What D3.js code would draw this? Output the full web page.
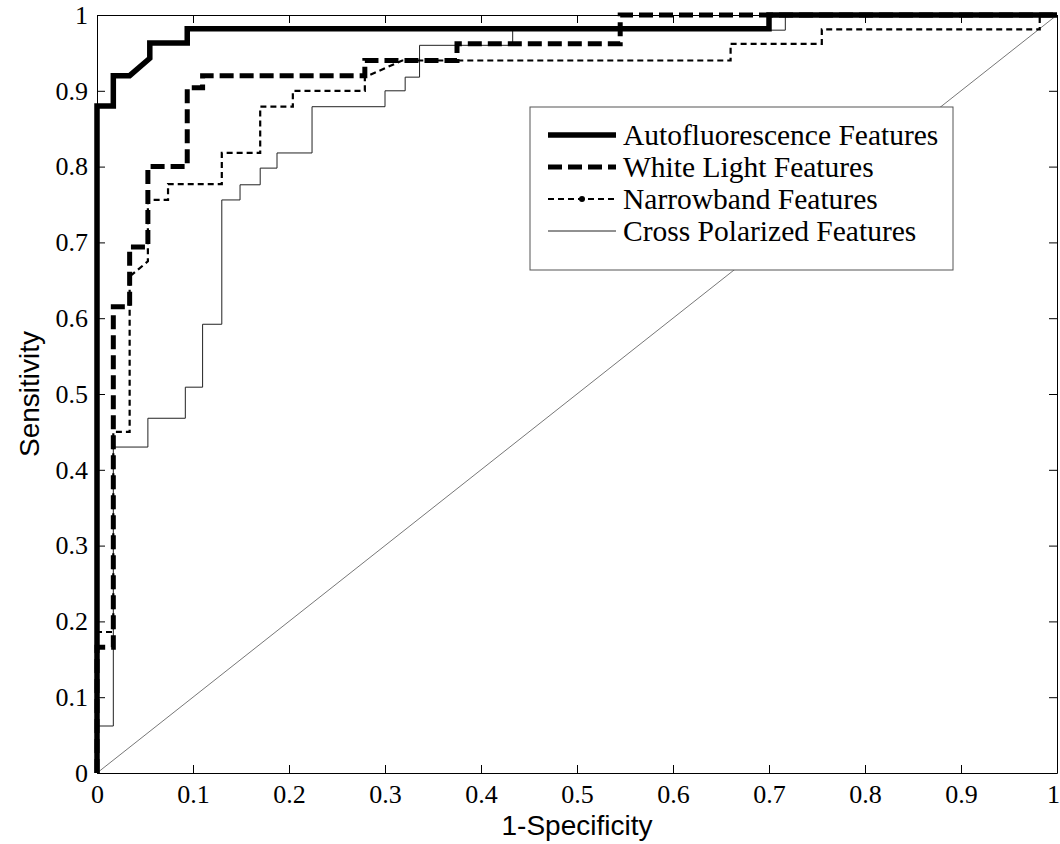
<!DOCTYPE html>
<meta charset="utf-8">
<style>
body { margin: 0; background: #fff; }
.tick text { font-family: "Liberation Serif", "Times New Roman", serif; font-size: 26px; fill: #000; }
.tick line { stroke: #000; }
.domain { stroke: #000; stroke-width: 1; }
</style>
<body>
<svg width="1060" height="844"></svg>
<script src="https://cdnjs.cloudflare.com/ajax/libs/d3/7.8.5/d3.min.js"></script>
<script>

// ROC curves, stair steps: [1-specificity, sensitivity]
var autoPts = [[0,0],[0,0.88],[0.017,0.88],[0.017,0.92],[0.034,0.92],[0.055,0.943],[0.055,0.963],
  [0.094,0.963],[0.094,0.982],[0.70,0.982],[0.70,1],[1,1]];

var whitePts = [[0,0],[0,0.166],[0.017,0.166],[0.017,0.615],[0.034,0.615],[0.034,0.694],[0.053,0.694],
  [0.053,0.80],[0.094,0.80],[0.094,0.904],[0.11,0.904],[0.11,0.92],[0.279,0.92],[0.279,0.94],
  [0.375,0.94],[0.375,0.962],[0.545,0.962],[0.545,1],[1,1]];

var narrowPts = [[0,0],[0,0.186],[0.017,0.186],[0.017,0.45],[0.034,0.45],[0.034,0.655],[0.053,0.675],
  [0.053,0.756],[0.074,0.756],[0.074,0.777],[0.13,0.777],[0.13,0.818],[0.17,0.818],[0.17,0.879],
  [0.204,0.879],[0.204,0.90],[0.279,0.90],[0.279,0.918],[0.318,0.94],[0.66,0.94],[0.66,0.962],
  [0.755,0.962],[0.755,0.981],[0.982,0.981],[0.982,1],[1,1]];

var crossPts = [[0,0],[0,0.062],[0.017,0.062],[0.017,0.43],[0.053,0.43],[0.053,0.468],[0.092,0.468],
  [0.092,0.509],[0.11,0.509],[0.11,0.592],[0.13,0.592],[0.13,0.756],[0.149,0.756],[0.149,0.776],
  [0.17,0.776],[0.17,0.798],[0.1875,0.798],[0.1875,0.818],[0.224,0.818],[0.224,0.879],[0.30,0.879],
  [0.30,0.90],[0.321,0.90],[0.321,0.918],[0.336,0.918],[0.336,0.96],[0.433,0.96],[0.433,0.98],
  [0.717,0.98],[0.717,1],[1,1]];

var chancePts = [[0,0],[1,1]];

var tickVals = [0,0.1,0.2,0.3,0.4,0.5,0.6,0.7,0.8,0.9,1];
var tickLabels = ["0","0.1","0.2","0.3","0.4","0.5","0.6","0.7","0.8","0.9","1"];

var seriesNames = ["Autofluorescence Features","White Light Features","Narrowband Features","Cross Polarized Features"];

var svg = d3.select("svg");

var x = d3.scaleLinear().domain([0,1]).range([97,1057]);
var y = d3.scaleLinear().domain([0,1]).range([773,15]);

var line = d3.line()
  .x(function(d){ return x(d[0]); })
  .y(function(d){ return y(d[1]); });

var styles = [
  {w: 5.5, dash: null, color: "#000"},
  {w: 5, dash: "14,6", color: "#000"},
  {w: 2.2, dash: "6,4", color: "#000"},
  {w: 1, dash: null, color: "#222"}
];

// axes, box on, ticks inside
var xAxisG = svg.append("g")
  .attr("transform", "translate(0," + y(0) + ")")
  .call(d3.axisBottom(x).tickValues(tickVals)
    .tickFormat(function(d,i){ return tickLabels[i]; })
    .tickSizeInner(-8).tickSizeOuter(0).tickPadding(12));

// last label sits on the page edge, nudge it in
xAxisG.selectAll(".tick text")
  .filter(function(d){ return d == 1; })
  .attr("dx", -4);

svg.append("g")
  .attr("transform", "translate(" + x(0) + ",0)")
  .call(d3.axisLeft(y).tickValues(tickVals)
    .tickFormat(function(d,i){ return tickLabels[i]; })
    .tickSizeInner(-8).tickSizeOuter(0).tickPadding(9));

svg.append("g")
  .attr("transform", "translate(0," + y(1) + ")")
  .call(d3.axisTop(x).tickValues(tickVals).tickFormat("")
    .tickSizeInner(-8).tickSizeOuter(0));

svg.append("g")
  .attr("transform", "translate(" + x(1) + ",0)")
  .call(d3.axisRight(y).tickValues(tickVals).tickFormat("")
    .tickSizeInner(-8).tickSizeOuter(0));

// chance line
svg.append("path")
  .attr("d", line(chancePts))
  .style("fill", "none")
  .style("stroke", "#777")
  .style("stroke-width", 1);

var curves = [crossPts, narrowPts, whitePts, autoPts];
var curveStyle = [styles[3], styles[2], styles[1], styles[0]];

curves.forEach(function(pts, i){
  var s = curveStyle[i];
  svg.append("path")
    .attr("d", line(pts))
    .style("fill", "none")
    .style("stroke", s.color)
    .style("stroke-width", s.w)
    .style("stroke-dasharray", s.dash)
    .style("stroke-linejoin", "miter");
});

// axis labels
svg.append("text")
  .attr("x", (x(0) + x(1)) / 2)
  .attr("y", 835)
  .attr("text-anchor", "middle")
  .style("font-family", "'Liberation Sans', Arial, sans-serif")
  .style("font-size", "28px")
  .text("1-Specificity");

svg.append("text")
  .attr("transform", "translate(39," + ((y(0) + y(1)) / 2) + ") rotate(-90)")
  .attr("text-anchor", "middle")
  .style("font-family", "'Liberation Sans', Arial, sans-serif")
  .style("font-size", "28px")
  .text("Sensitivity");

// legend
var legend = svg.append("g");

legend.append("rect")
  .attr("x", 530).attr("y", 107)
  .attr("width", 423).attr("height", 163)
  .style("fill", "#fff")
  .style("stroke", "#555")
  .style("stroke-width", 1);

var rowY = [135, 167, 199, 231];

seriesNames.forEach(function(name, i){
  var s = styles[i];
  legend.append("line")
    .attr("x1", 548).attr("x2", 616)
    .attr("y1", rowY[i]).attr("y2", rowY[i])
    .style("stroke", s.color)
    .style("stroke-width", s.w)
    .style("stroke-dasharray", s.dash);
  if (i == 2) {
    legend.append("circle")
      .attr("cx", 582).attr("cy", rowY[i])
      .attr("r", 3)
      .style("fill", "#000");
  }
  legend.append("text")
    .attr("x", 623)
    .attr("y", rowY[i])
    .attr("dy", "0.35em")
    .style("font-family", "'Liberation Serif', 'Times New Roman', serif")
    .style("font-size", "29.5px")
    .text(name);
});

</script>
</body>
